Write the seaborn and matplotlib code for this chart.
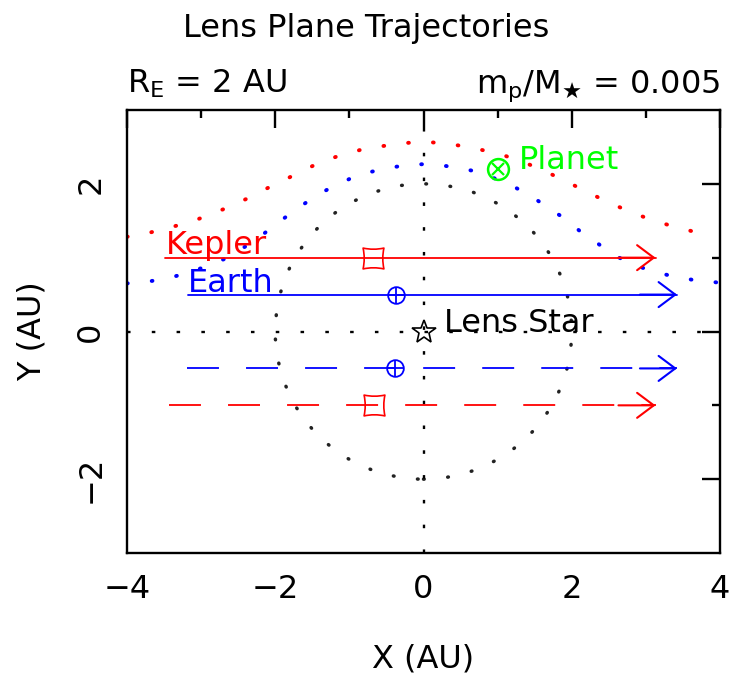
import matplotlib
matplotlib.use("Agg")
import matplotlib.pyplot as plt
import numpy as np
import pandas as pd
import seaborn as sns
from matplotlib.patches import Circle
from matplotlib.path import Path

sns.set_style("white")
plt.rcParams["font.family"] = ["DejaVu Sans"]
plt.rcParams["font.size"] = 23
plt.rcParams["mathtext.default"] = "regular"
plt.rcParams["text.color"] = "black"
plt.rcParams["axes.labelcolor"] = "black"
plt.rcParams["xtick.color"] = "black"
plt.rcParams["ytick.color"] = "black"

# Einstein ring radius (AU)
RE = 2.0

# dotted curves
kep_curve_x = [-4.0, -3.96, -3.69, -3.42, -3.15, -2.89, -2.64, -2.38, -2.13, -1.88, -1.63, -1.37, -1.11,
               -0.85, -0.56, -0.28, 0.0, 0.27, 0.54, 0.83, 1.10, 1.36, 1.62, 1.87, 2.13,
               2.37, 2.63, 2.89, 3.15, 3.41, 3.70]
kep_curve_y = [1.28, 1.30, 1.34, 1.41, 1.48, 1.58, 1.68, 1.80, 1.93, 2.05, 2.18, 2.30, 2.39,
               2.46, 2.51, 2.55, 2.57, 2.55, 2.51, 2.45, 2.38, 2.29, 2.18, 2.06, 1.93,
               1.81, 1.69, 1.58, 1.49, 1.41, 1.34]
earth_curve_x = [-4.0, -3.96, -3.69, -3.42, -3.15, -2.89, -2.64, -2.39, -2.16, -1.94, -1.71, -1.49, -1.25,
                 -0.99, -0.72, -0.45, -0.17, 0.11, 0.38, 0.65, 0.92, 1.18, 1.43, 1.66,
                 1.89, 2.11, 2.34, 2.56, 2.82, 3.08, 3.35, 3.63, 3.91, 4.0]
earth_curve_y = [0.65, 0.66, 0.68, 0.73, 0.80, 0.90, 1.00, 1.16, 1.32, 1.49, 1.66, 1.81, 1.95,
                 2.07, 2.16, 2.22, 2.26, 2.27, 2.23, 2.18, 2.09, 1.98, 1.85, 1.69,
                 1.54, 1.36, 1.20, 1.04, 0.91, 0.82, 0.75, 0.70, 0.67, 0.66]

# straight trajectories
traj_name = ["Kepler", "Earth", "Earth", "Kepler"]
traj_y = [1.0, 0.5, -0.5, -1.0]
traj_x0 = [-3.49, -3.18, -3.19, -3.44]
traj_x1 = [3.13, 3.42, 3.42, 3.13]
traj_style = ["solid", "solid", "dashed", "dashed"]
traj_color = ["red", "blue", "blue", "red"]
# observer markers on each trajectory
obs_x = [-0.68, -0.37, -0.38, -0.67]

planet_x, planet_y = 1.0, 2.2
star_x, star_y = 0.0, 0.0

# square with slightly concave sides
sq = Path([(-1, -1), (0, -0.78), (1, -1), (0.78, 0), (1, 1), (0, 0.78), (-1, 1), (-0.78, 0), (-1, -1), (-1, -1)],
          [Path.MOVETO, Path.CURVE3, Path.CURVE3, Path.CURVE3, Path.CURVE3, Path.CURVE3, Path.CURVE3,
           Path.CURVE3, Path.CURVE3, Path.CLOSEPOLY])

fig = plt.figure(figsize=(7.33, 6.86), dpi=100)
ax = fig.add_axes([127 / 733, 1 - 553 / 686, 593 / 733, 443 / 686])

dot = (0, (0.2, 6.2))
sns.lineplot(x=kep_curve_x, y=kep_curve_y, ax=ax, color="red", lw=2.8, linestyle=dot,
             dash_capstyle="round", sort=False)
sns.lineplot(x=earth_curve_x, y=earth_curve_y, ax=ax, color="blue", lw=2.8, linestyle=dot,
             dash_capstyle="round", sort=False)
ax.add_patch(Circle((0, 0), RE, fill=False, ec="#222222", lw=2.5, ls=(0, (0.2, 6.8)), capstyle="round"))

ax.axhline(0, color="black", lw=1.7, ls=(0, (1.5, 9)))
ax.axvline(0, color="black", lw=1.7, ls=(0, (1.5, 9)))

df = pd.DataFrame({"name": traj_name, "y": traj_y, "x0": traj_x0, "x1": traj_x1})
for i, row in df.iterrows():
    ls = "-" if traj_style[i] == "solid" else (0, (17.7, 15))
    sns.lineplot(x=[row.x0, row.x1], y=[row.y, row.y], ax=ax, color=traj_color[i], lw=1.3,
                 linestyle=ls, sort=False)
    ax.annotate("", xy=(row.x1, row.y), xytext=(row.x1 - 0.5, row.y),
                arrowprops=dict(arrowstyle="->,head_length=0.6,head_width=0.45", color=traj_color[i],
                                lw=1.5, shrinkA=0, shrinkB=0, mutation_scale=20))
    if traj_color[i] == "red":
        ax.plot(obs_x[i], row.y, marker=sq, ms=15, mfc="none", mec="red", mew=1.2)
    else:
        ax.plot(obs_x[i], row.y, marker="o", ms=12, mfc="none", mec="blue", mew=1.3)
        ax.plot(obs_x[i], row.y, marker="+", ms=12, mec="blue", mew=1.3)

ax.plot(planet_x, planet_y, marker="o", ms=15, mfc="none", mec="lime", mew=1.8)
ax.plot(planet_x, planet_y, marker="x", ms=9, mec="lime", mew=1.6)
ax.plot(star_x, star_y, marker="*", ms=18, mfc="none", mec="black", mew=1.2)

ax.text(-3.47, 1.05, "Kepler", color="red", va="baseline", ha="left")
ax.text(-3.18, 0.53, "Earth", color="blue", va="baseline", ha="left")
ax.text(0.27, 0.0, "Lens Star", color="black", va="baseline", ha="left")
ax.text(1.28, 2.2, "Planet", color="lime", va="baseline", ha="left")

ax.set_xlim(-4, 4)
ax.set_ylim(-3, 3)
ax.set_xticks([-4, -2, 0, 2, 4])
ax.set_yticks([-2, 0, 2])
ax.set_xticks([-3, -1, 1, 3], minor=True)
ax.set_yticks([-1, 1], minor=True)
ax.tick_params(which="both", direction="in", top=True, right=True, width=1.7, color="black")
ax.tick_params(which="major", length=13, pad=15)
ax.tick_params(which="minor", length=6)
for lab in ax.get_yticklabels():
    lab.set_rotation(90)
    lab.set_va("center")
for s in ax.spines.values():
    s.set_linewidth(1.7)
    s.set_color("black")
ax.set_xlabel("X (AU)", labelpad=28)
ax.set_ylabel("Y (AU)", labelpad=20)

fig.text(0.5, 1 - 37 / 686, "Lens Plane Trajectories", ha="center", va="baseline")
fig.text(127 / 733, 1 - 93 / 686, "$R_E$ = 2 AU", ha="left", va="baseline")
fig.text(720 / 733, 1 - 93 / 686, "$m_p/M_{★}$ = 0.005", ha="right", va="baseline")

fig.savefig("out.png", dpi=100)
